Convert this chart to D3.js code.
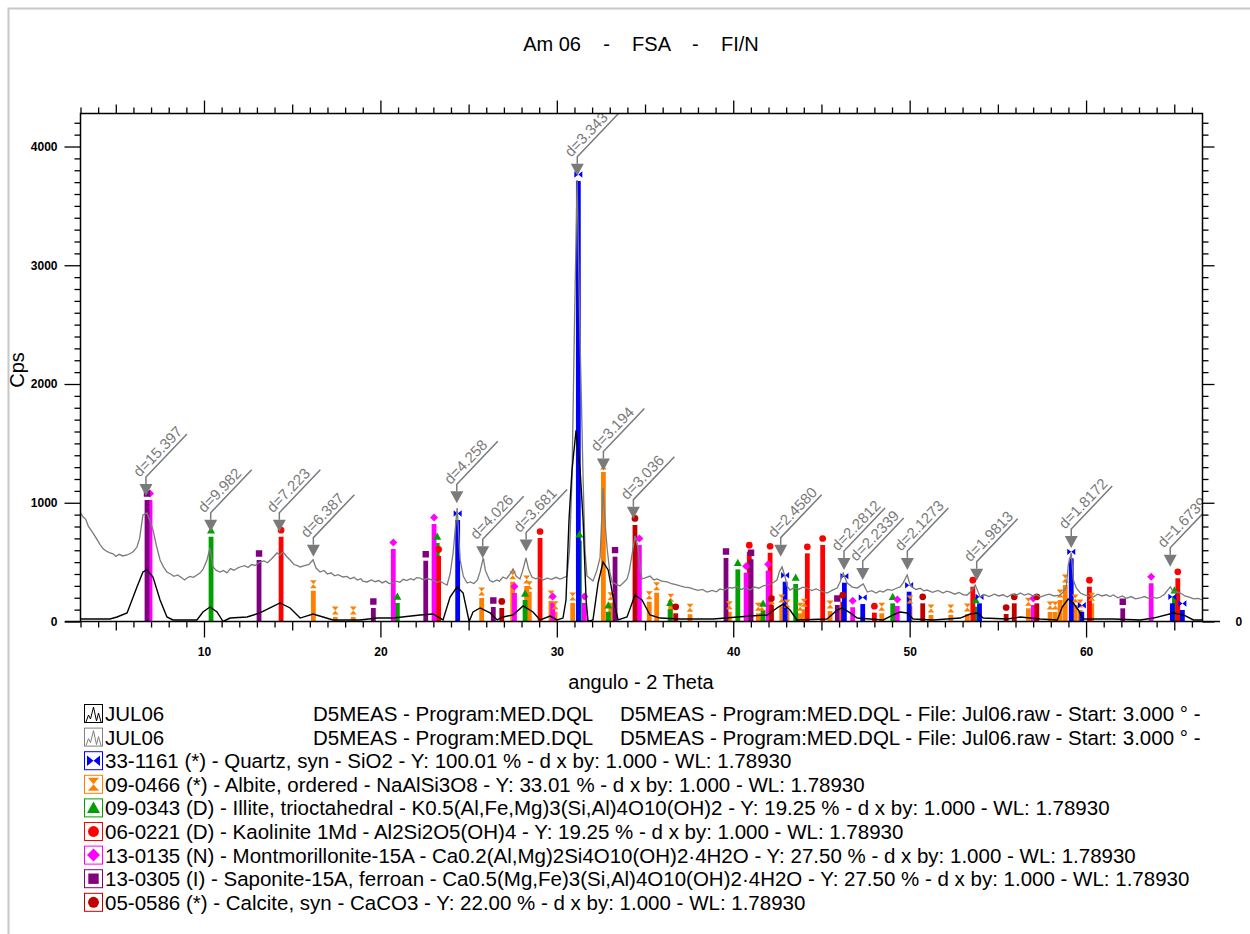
<!DOCTYPE html>
<html>
<head>
<meta charset="utf-8">
<script src="https://cdn.jsdelivr.net/npm/d3@7"></script>
<style>
  body { margin: 0; background: #fff; }
  svg { display: block; }
  text { font-family: "Liberation Sans", Arial, sans-serif; }
</style>
</head>
<body>
<svg id="chart" width="1250" height="934"></svg>
<script>
// scan traces: [2theta, cps]
const scanBlack = [[3.0,21],[4.67,21],[5.07,38],[5.64,72],[6.2,291],[6.54,417],[6.77,434],[7.11,375],[7.51,181],[7.9,38],[8.24,13],[9.6,13],[9.94,80],[10.34,122],[10.74,80],[11.08,0],[11.48,29],[12.44,38],[13.17,72],[13.74,114],[14.31,156],[14.88,114],[15.45,29],[16.18,63],[16.75,38],[17.31,13],[18.84,13],[19.81,29],[20.72,29],[22.25,55],[22.98,63],[23.55,13],[23.95,206],[24.35,291],[24.69,240],[25.03,0],[25.25,80],[25.65,114],[26.22,72],[26.62,13],[26.95,38],[27.52,55],[28.09,131],[28.65,80],[29.05,13],[29.62,46],[30.01,13],[30.35,29],[30.52,181],[30.69,855],[30.86,1274],[31.09,1611],[31.32,1274],[31.49,855],[31.66,181],[31.77,0],[32.05,13],[32.34,324],[32.62,501],[32.91,434],[33.19,206],[33.47,13],[33.98,38],[34.43,223],[34.83,181],[35.28,55],[35.85,29],[36.99,21],[38.86,21],[40.96,46],[41.92,55],[42.48,114],[42.82,147],[43.22,97],[43.61,13],[45.32,21],[45.89,97],[46.17,114],[46.63,72],[47.03,29],[48.5,13],[49.07,55],[49.46,80],[49.86,72],[50.2,21],[51.34,13],[52.87,29],[53.43,63],[53.83,72],[54.17,29],[55.53,21],[56.27,38],[57.4,21],[58.37,13],[58.65,122],[58.99,189],[59.28,156],[59.56,97],[59.84,21],[61.55,21],[63.08,13],[63.82,29],[64.95,72],[65.52,55],[66.09,13],[66.6,13]];

const scanGray = [[3.0,914],[3.15,880],[3.3,860],[3.45,800],[3.6,770],[3.71,745],[3.9,700],[4.1,650],[4.3,610],[4.5,590],[4.67,577],[4.85,570],[5.0,548],[5.2,566],[5.4,552],[5.64,560],[5.85,575],[6.0,590],[6.2,627],[6.35,700],[6.54,897],[6.77,914],[6.95,840],[7.11,771],[7.3,640],[7.51,518],[7.7,460],[7.9,417],[8.1,400],[8.3,380],[8.5,392],[8.7,372],[8.9,350],[9.04,366],[9.2,380],[9.4,372],[9.6,392],[9.77,408],[9.95,440],[10.17,518],[10.34,619],[10.51,459],[10.7,430],[10.91,417],[11.1,430],[11.3,410],[11.5,445],[11.7,432],[11.9,450],[12.04,459],[12.3,470],[12.5,455],[12.7,480],[12.9,472],[13.17,501],[13.4,510],[13.6,495],[13.85,530],[14.14,577],[14.3,560],[14.48,585],[14.7,545],[14.88,518],[15.1,480],[15.3,470],[15.45,459],[15.7,470],[15.95,480],[16.18,520],[16.35,450],[16.58,417],[16.8,430],[17.0,400],[17.2,410],[17.4,385],[17.6,395],[17.88,375],[18.1,380],[18.3,360],[18.5,372],[18.7,350],[18.9,360],[19.0,340],[19.24,333],[19.5,350],[19.7,335],[19.9,345],[20.1,325],[20.3,340],[20.5,320],[20.72,324],[20.9,340],[21.1,330],[21.3,355],[21.5,345],[21.7,360],[21.9,350],[22.05,370],[22.25,366],[22.45,350],[22.65,362],[22.98,349],[23.2,330],[23.4,340],[23.6,320],[23.78,307],[23.95,400],[24.12,577],[24.35,956],[24.52,518],[24.7,380],[24.92,324],[25.09,333],[25.3,320],[25.5,350],[25.65,420],[25.83,535],[25.95,430],[26.06,392],[26.2,345],[26.38,333],[26.6,350],[26.75,340],[26.95,375],[27.15,360],[27.35,400],[27.52,442],[27.7,380],[27.91,358],[28.05,420],[28.25,535],[28.4,440],[28.59,375],[28.8,360],[29.0,370],[29.22,349],[29.45,365],[29.7,355],[29.95,372],[30.18,358],[30.4,370],[30.58,383],[30.72,600],[30.86,1200],[31.0,2500],[31.15,3718],[31.3,2500],[31.49,1200],[31.6,600],[31.71,383],[31.9,360],[32.05,341],[32.25,420],[32.45,535],[32.62,1124],[32.75,800],[32.85,619],[33.0,420],[33.13,333],[33.35,315],[33.58,299],[33.8,330],[33.98,358],[34.1,420],[34.26,560],[34.43,720],[34.6,619],[34.72,450],[34.83,358],[35.05,370],[35.28,383],[35.5,350],[35.68,358],[35.95,340],[36.25,333],[36.5,318],[36.75,310],[36.99,299],[37.25,290],[37.5,285],[37.72,274],[38.0,262],[38.25,270],[38.52,248],[38.8,262],[39.05,250],[39.25,274],[39.5,265],[39.75,285],[39.99,282],[40.2,295],[40.45,270],[40.7,285],[40.96,265],[41.2,290],[41.45,280],[41.7,300],[41.92,307],[42.2,320],[42.48,349],[42.62,420],[42.77,459],[42.94,375],[43.05,300],[43.22,265],[43.45,285],[43.7,270],[43.95,290],[44.19,282],[44.45,260],[44.7,275],[45.0,255],[45.32,240],[45.6,262],[45.89,282],[46.05,330],[46.23,408],[46.46,324],[46.75,290],[47.03,282],[47.2,300],[47.37,316],[47.6,248],[47.85,260],[48.1,240],[48.3,258],[48.5,248],[48.75,270],[49.0,262],[49.25,280],[49.46,291],[49.65,330],[49.86,392],[50.0,320],[50.14,291],[50.35,270],[50.6,280],[50.8,258],[50.99,265],[51.3,245],[51.6,262],[51.9,240],[52.1,255],[52.3,248],[52.55,230],[52.8,245],[53.05,225],[53.26,223],[53.45,250],[53.72,307],[53.85,260],[54.0,206],[54.25,225],[54.5,210],[54.8,230],[55.05,215],[55.3,225],[55.53,206],[55.8,230],[56.05,220],[56.27,240],[56.5,222],[56.75,235],[57.0,215],[57.2,225],[57.4,206],[57.65,220],[57.9,230],[58.2,215],[58.54,223],[58.7,250],[58.88,291],[58.99,476],[59.16,577],[59.28,349],[59.45,280],[59.68,240],[59.9,225],[60.15,215],[60.41,206],[60.65,230],[60.9,215],[61.15,225],[61.35,210],[61.55,223],[61.8,200],[62.05,215],[62.3,195],[62.55,210],[62.8,190],[63.08,198],[63.3,210],[63.55,195],[63.8,205],[64.0,195],[64.21,206],[64.45,230],[64.6,260],[64.78,291],[64.95,248],[65.15,250],[65.35,240],[65.6,215],[65.85,205],[66.1,190],[66.35,195],[66.6,181]];

// reference patterns (stick positions): [2theta, cps]
const quartz = [[24.38,855],[31.22,3709],[42.94,335],[46.30,327],[47.34,147],[49.97,251],[53.96,153],[59.16,532],[59.76,82],[64.89,153],[65.46,97]];
const albite = [[16.20,259],[17.44,38],[18.46,38],[25.74,198],[27.50,335],[28.29,299],[28.44,251],[29.67,173],[29.90,82],[30.90,156],[32.64,1259],[33.06,158],[35.24,167],[35.66,242],[36.46,145],[37.55,61],[39.78,82],[41.42,69],[41.62,69],[42.18,125],[42.75,139],[43.05,97],[43.79,69],[44.02,103],[45.49,88],[48.42,69],[50.02,130],[51.21,55],[52.33,55],[53.27,63],[56.73,111],[57.96,80],[58.25,80],[58.53,181],[58.82,307],[59.38,139],[59.66,97],[60.32,153]];
const illite = [[10.40,714],[20.96,156],[23.22,661],[28.20,181],[31.28,680],[32.92,82],[36.42,103],[40.26,439],[41.69,97],[43.54,316],[49.04,153],[53.75,125],[65.01,209]];
const kaolinite = [[14.37,714],[23.30,552],[29.05,703],[40.91,588],[42.09,579],[44.20,574],[45.07,644],[48.00,74],[53.58,293],[60.19,293],[65.20,364]];
const montmorillonite = [[6.94,1023],[20.73,611],[23.04,821],[27.60,240],[29.77,156],[31.56,156],[34.68,644],[40.73,411],[41.98,428],[46.77,120],[49.30,131],[57.01,139],[63.69,322]];
const saponite = [[6.77,1023],[13.12,518],[19.60,114],[22.57,512],[26.40,122],[33.30,546],[39.59,535],[41.01,524],[45.90,139],[62.08,111]];
const calcite = [[26.88,114],[34.43,813],[36.74,69],[42.16,139],[46.21,167],[50.74,153],[55.47,63],[55.93,153],[57.21,153]];

// peak d-spacing labels: [label, 2theta, cps of arrow tip]
const peakLabels = [["d=15.397",6.71,1057],["d=9.982",10.38,756],["d=7.223",14.27,756],["d=6.387",16.20,546],["d=4.258",24.33,995],["d=4.026",25.80,532],["d=3.681",28.26,590],["d=3.343",31.16,3753],["d=3.194",32.64,1272],["d=3.036",34.34,866],["d=2.4580",42.69,546],["d=2.2812",46.28,434],["d=2.2339",47.34,349],["d=2.1273",49.87,434],["d=1.9813",53.80,344],["d=1.8172",59.16,619],["d=1.6739",64.77,461]];

const xTickLabels = [10, 20, 30, 40, 50, 60];
const yTickLabels = [0, 1000, 2000, 3000, 4000];

const scanLegend = ["JUL06", "D5MEAS - Program:MED.DQL", "D5MEAS - Program:MED.DQL - File: Jul06.raw - Start: 3.000 \u00b0 -"];
const phaseLegend = [
  "33-1161 (*) - Quartz, syn - SiO2 - Y: 100.01 % - d x by: 1.000 - WL: 1.78930",
  "09-0466 (*) - Albite, ordered - NaAlSi3O8 - Y: 33.01 % - d x by: 1.000 - WL: 1.78930",
  "09-0343 (D) - Illite, trioctahedral - K0.5(Al,Fe,Mg)3(Si,Al)4O10(OH)2 - Y: 19.25 % - d x by: 1.000 - WL: 1.78930",
  "06-0221 (D) - Kaolinite 1Md - Al2Si2O5(OH)4 - Y: 19.25 % - d x by: 1.000 - WL: 1.78930",
  "13-0135 (N) - Montmorillonite-15A - Ca0.2(Al,Mg)2Si4O10(OH)2\u00b74H2O - Y: 27.50 % - d x by: 1.000 - WL: 1.78930",
  "13-0305 (I) - Saponite-15A, ferroan - Ca0.5(Mg,Fe)3(Si,Al)4O10(OH)2\u00b74H2O - Y: 27.50 % - d x by: 1.000 - WL: 1.78930",
  "05-0586 (*) - Calcite, syn - CaCO3 - Y: 22.00 % - d x by: 1.000 - WL: 1.78930"
];

const phases = [
  { data: quartz, color: "#0000ff", symbol: "bowtie" },
  { data: albite, color: "#ff8000", symbol: "hourglass" },
  { data: illite, color: "#00a000", symbol: "triangle" },
  { data: kaolinite, color: "#ff0000", symbol: "circle" },
  { data: montmorillonite, color: "#ff00ff", symbol: "diamond" },
  { data: saponite, color: "#800080", symbol: "square" },
  { data: calcite, color: "#c00000", symbol: "circle" }
];
// draw order of the sticks (quartz on top)
const drawOrder = [1, 2, 3, 4, 5, 6, 0];

const svg = d3.select("#chart");
const x = d3.scaleLinear().domain([3, 66.6]).range([80.5, 1202.5]);
const y = d3.scaleLinear().domain([0, 4278]).range([621.5, 113.5]);
const [x0, x1] = x.range();
const [yb, yt] = y.range();

// outer panel border
svg.append("path")
  .attr("d", "M8.5,934V8.5H1250")
  .attr("fill", "none").attr("stroke", "#c8c8c8").attr("stroke-width", 2);

svg.append("text")
  .attr("x", 641).attr("y", 51)
  .attr("text-anchor", "middle").attr("font-size", 20)
  .style("white-space", "pre")
  .text("Am 06    -    FSA    -    FI/N");

svg.append("defs").append("clipPath").attr("id", "plotclip")
  .append("rect").attr("x", x0).attr("y", yt).attr("width", x1 - x0).attr("height", yb - yt);

function symbolPath(type, s) {
  switch (type) {
    case "bowtie": return `M${-s},${-s * 0.8}L0,0L${-s},${s * 0.8}ZM${s},${-s * 0.8}L0,0L${s},${s * 0.8}Z`;
    case "hourglass": return `M${-s * 0.85},${-s}L${s * 0.85},${-s}L0,0ZM${-s * 0.85},${s}L${s * 0.85},${s}L0,0Z`;
    case "triangle": return `M0,${-s}L${s},${s * 0.8}L${-s},${s * 0.8}Z`;
    case "diamond": return `M0,${-s}L${s},0L0,${s}L${-s},0Z`;
    case "square": return `M${-s * 0.8},${-s * 0.8}h${1.6 * s}v${1.6 * s}h${-1.6 * s}Z`;
    default: return d3.symbol(d3.symbolCircle, Math.PI * s * s * 0.7)();
  }
}

const plot = svg.append("g").attr("clip-path", "url(#plotclip)");

// sticks
const barW = 4.8;
drawOrder.forEach(i => {
  const p = phases[i];
  plot.append("g").selectAll("rect")
    .data(p.data)
    .join("rect")
      .attr("x", d => x(d[0]) - barW / 2)
      .attr("y", d => y(d[1]))
      .attr("width", barW)
      .attr("height", d => y(0) - y(d[1]))
      .attr("fill", p.color);
});
drawOrder.forEach(i => {
  const p = phases[i];
  plot.append("g").selectAll("path")
    .data(p.data)
    .join("path")
      .attr("transform", d => `translate(${x(d[0])},${y(d[1]) - 6.5})`)
      .attr("d", symbolPath(p.symbol, 4))
      .attr("fill", p.color);
});

// scans
const line = d3.line().x(d => x(d[0])).y(d => y(d[1]));
plot.append("path").datum(scanGray)
  .attr("d", line).attr("fill", "none").attr("stroke", "#7a7a7a").attr("stroke-width", 1.3);
plot.append("path").datum(scanBlack)
  .attr("d", line).attr("fill", "none").attr("stroke", "#000").attr("stroke-width", 1.4);

// d-spacing markers
const ann = plot.append("g").selectAll("g")
  .data(peakLabels)
  .join("g")
    .attr("transform", d => `translate(${x(d[1])},${y(d[2])})`);
ann.append("path")
  .attr("d", "M-6.5,-12L6.5,-12L0,0Z")
  .attr("fill", "#7a7a7a");
ann.append("path")
  .attr("d", "M0,-12V-19l41,-43")
  .attr("fill", "none").attr("stroke", "#7a7a7a").attr("stroke-width", 1.5);
ann.append("text")
  .attr("transform", "translate(0,-19) rotate(-46)")
  .attr("x", -5).attr("y", -4)
  .attr("font-size", 15).attr("fill", "#7a7a7a")
  .text(d => d[0]);

// axes
const tickFont = "'Liberation Sans Narrow', 'Liberation Sans', Arial, sans-serif";
function tidy(g) {
  g.select(".domain").remove();
  g.selectAll(".tick line").attr("stroke", "#000").attr("stroke-width", 1.3);
  g.selectAll(".tick text").attr("font-family", tickFont).attr("font-size", 12)
    .attr("font-weight", "bold").attr("fill", "#000");
}
const xAll = d3.range(3, 67);
const xMid = xAll.filter(v => v % 5 === 0 && v % 10 !== 0);
const xMinor = xAll.filter(v => v % 5 !== 0);
const yMinor = d3.range(100, 4278, 100).filter(v => v % 1000 !== 0);

svg.append("g").attr("transform", `translate(0,${yb})`)
  .call(d3.axisBottom(x).tickValues(xTickLabels).tickSize(16).tickPadding(10).tickFormat(d3.format("d"))).call(tidy);
svg.append("g").attr("transform", `translate(0,${yb})`)
  .call(d3.axisBottom(x).tickValues(xMid).tickSize(9).tickFormat("")).call(tidy);
svg.append("g").attr("transform", `translate(0,${yb})`)
  .call(d3.axisBottom(x).tickValues(xMinor).tickSize(6).tickFormat("")).call(tidy);

svg.append("g").attr("transform", `translate(0,${yt})`)
  .call(d3.axisTop(x).tickValues(xTickLabels).tickSize(13).tickFormat("")).call(tidy);
svg.append("g").attr("transform", `translate(0,${yt})`)
  .call(d3.axisTop(x).tickValues(xMid).tickSize(9).tickFormat("")).call(tidy);
svg.append("g").attr("transform", `translate(0,${yt})`)
  .call(d3.axisTop(x).tickValues(xMinor).tickSize(6).tickFormat("")).call(tidy);

svg.append("g").attr("transform", `translate(${x0},0)`)
  .call(d3.axisLeft(y).tickValues(yTickLabels).tickSize(16).tickPadding(7).tickFormat(d3.format("d"))).call(tidy);
svg.append("g").attr("transform", `translate(${x0},0)`)
  .call(d3.axisLeft(y).tickValues(yMinor).tickSize(6).tickFormat("")).call(tidy);

svg.append("g").attr("transform", `translate(${x1},0)`)
  .call(d3.axisRight(y).tickValues(yTickLabels).tickSize(12).tickPadding(21).tickFormat(d => d === 0 ? "0" : "")).call(tidy);
svg.append("g").attr("transform", `translate(${x1},0)`)
  .call(d3.axisRight(y).tickValues(yMinor).tickSize(6).tickFormat("")).call(tidy);

// frame
svg.append("path")
  .attr("d", `M${x0},${yb + 0.5}V${yt}H${x1}V${yb}M${x0 - 15.5},${yb}H${x1 + 17.5}`)
  .attr("fill", "none").attr("stroke", "#000").attr("stroke-width", 1.5);

// axis titles
svg.append("text")
  .attr("transform", "translate(24,370) rotate(-90)")
  .attr("text-anchor", "middle").attr("font-size", 20)
  .text("Cps");
svg.append("text")
  .attr("x", 641).attr("y", 689)
  .attr("text-anchor", "middle").attr("font-size", 20)
  .text("angulo - 2 Theta");

// legend
const rowY = i => 714 + i * 23.6;
const legend = svg.append("g").attr("font-size", 20.5);
["#000", "#808080"].forEach((c, i) => {
  const cy = rowY(i);
  legend.append("rect").attr("x", 84.5).attr("y", cy - 9.5).attr("width", 18).attr("height", 18)
    .attr("fill", "#fff").attr("stroke", c);
  legend.append("path")
    .attr("d", `M86,${cy + 8}L88.5,${cy + 1}L90.5,${cy + 5}L93.5,${cy - 7}L96.5,${cy + 7}L98.5,${cy - 1}L101,${cy + 8}`)
    .attr("fill", "none").attr("stroke", c).attr("stroke-width", 1);
  [105, 313, 620].forEach((tx, k) => {
    legend.append("text").attr("x", tx).attr("y", cy + 7).text(scanLegend[k]);
  });
});
phases.forEach((p, i) => {
  const cy = rowY(i + 2);
  legend.append("rect").attr("x", 84.5).attr("y", cy - 9.5).attr("width", 18).attr("height", 18)
    .attr("fill", "#fff").attr("stroke", p.color);
  legend.append("path")
    .attr("transform", `translate(93.5,${cy - 0.5})`)
    .attr("d", symbolPath(p.symbol, 6.5))
    .attr("fill", p.color);
  legend.append("text").attr("x", 105).attr("y", cy + 7).text(phaseLegend[i]);
});
</script>
</body>
</html>
